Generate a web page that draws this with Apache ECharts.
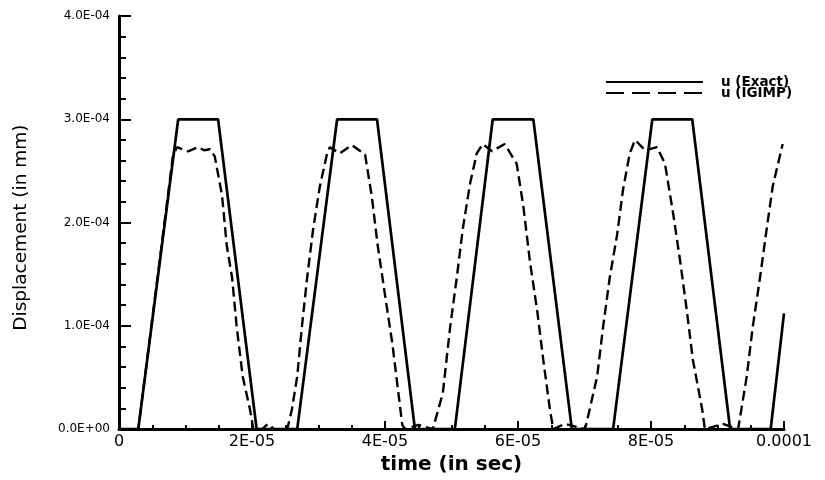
<!DOCTYPE html>
<html><head><meta charset="utf-8">
<script src="https://cdn.jsdelivr.net/npm/echarts@6/dist/echarts.min.js"></script>
<style>html,body{margin:0;padding:0;background:#fff}#c{width:825px;height:480px}</style>
</head><body><div id="c"></div>
<script>
// time (s)
const exactT = [0, 2.9e-6, 8.9e-6, 1.49e-5, 2.07e-5, 2.68e-5, 3.28e-5, 3.88e-5, 4.45e-5, 5.05e-5, 5.62e-5, 6.23e-5, 6.81e-5, 7.43e-5, 8.02e-5, 8.62e-5, 9.19e-5, 9.8e-5, 1e-4];
// displacement (mm)
const exactU = [0, 0, 3e-4, 3e-4, 0, 0, 3e-4, 3e-4, 0, 0, 3e-4, 3e-4, 0, 0, 3e-4, 3e-4, 0, 0, 1.12e-4];

const igimpT = [0, 2.9e-6, 8.1e-6, 8.7e-6, 1.04e-5, 1.19e-5, 1.28e-5, 1.37e-5, 1.44e-5, 1.55e-5, 1.62e-5, 1.70e-5, 1.77e-5, 1.86e-5, 1.97e-5, 2.02e-5,
  2.15e-5, 2.24e-5, 2.33e-5, 2.53e-5, 2.60e-5, 2.68e-5, 2.75e-5, 2.83e-5, 2.92e-5, 3.02e-5, 3.13e-5, 3.17e-5, 3.32e-5, 3.50e-5, 3.70e-5,
  3.80e-5, 3.89e-5, 4.00e-5, 4.11e-5, 4.26e-5, 4.30e-5, 4.50e-5, 4.72e-5, 4.87e-5, 4.98e-5, 5.08e-5, 5.17e-5, 5.28e-5, 5.38e-5, 5.47e-5,
  5.61e-5, 5.80e-5, 5.98e-5, 6.08e-5, 6.18e-5, 6.29e-5, 6.38e-5, 6.48e-5, 6.53e-5, 6.71e-5, 7.01e-5, 7.19e-5, 7.28e-5, 7.38e-5, 7.49e-5,
  7.58e-5, 7.68e-5, 7.76e-5, 7.91e-5, 8.09e-5, 8.21e-5, 8.33e-5, 8.44e-5, 8.54e-5, 8.63e-5, 8.77e-5, 8.81e-5, 9.08e-5, 9.31e-5, 9.44e-5,
  9.53e-5, 9.64e-5, 9.74e-5, 9.83e-5, 9.98e-5];
const igimpU = [0, 0, 2.64e-4, 2.73e-4, 2.69e-4, 2.73e-4, 2.70e-4, 2.71e-4, 2.64e-4, 2.26e-4, 1.78e-4, 1.47e-4, 0.99e-4, 0.51e-4, 0.19e-4, 0,
  0, 0.05e-4, 0, 0, 0.19e-4, 0.51e-4, 0.99e-4, 1.47e-4, 1.94e-4, 2.35e-4, 2.67e-4, 2.73e-4, 2.67e-4, 2.75e-4, 2.66e-4,
  2.26e-4, 1.78e-4, 1.30e-4, 0.83e-4, 0.04e-4, 0, 0.04e-4, 0, 0.35e-4, 0.99e-4, 1.47e-4, 1.94e-4, 2.38e-4, 2.67e-4, 2.76e-4,
  2.69e-4, 2.76e-4, 2.57e-4, 2.16e-4, 1.62e-4, 1.14e-4, 0.67e-4, 0.19e-4, 0, 0.05e-4, 0, 0.51e-4, 0.99e-4, 1.47e-4, 1.88e-4,
  2.32e-4, 2.67e-4, 2.80e-4, 2.70e-4, 2.73e-4, 2.57e-4, 2.10e-4, 1.62e-4, 1.14e-4, 0.67e-4, 0.19e-4, 0, 0.05e-4, 0, 0.51e-4,
  0.99e-4, 1.47e-4, 1.94e-4, 2.35e-4, 2.76e-4];

const xTickLabels = ['0', '2E-05', '4E-05', '6E-05', '8E-05', '0.0001'];
const yTickLabels = ['0.0E+00', '1.0E-04', '2.0E-04', '3.0E-04', '4.0E-04'];
const seriesNames = ['u (Exact)', 'u (IGIMP)'];

const zip = (a, b) => a.map((v, i) => [v, b[i]]);
const chart = echarts.init(document.getElementById('c'), null, {renderer: 'canvas'});
chart.setOption({
  animation: false,
  backgroundColor: '#fff',
  grid: {left: 119, right: 41, top: 16, bottom: 43, containLabel: false},
  legend: {
    orient: 'vertical', left: 605, top: 75, padding: 0, itemGap: -3, itemWidth: 97, itemHeight: 10,
    itemStyle: {color: 'rgba(0,0,0,0)', borderWidth: 0, opacity: 0},
    data: [{name: seriesNames[0]}, {name: seriesNames[1], lineStyle: {type: [18, 8]}}],
    textStyle: {fontFamily: 'DejaVu Sans', fontWeight: 'bold', fontSize: 13.5, color: '#000', lineHeight: 10, padding: [0, 0, 0, 13]}
  },
  xAxis: {
    type: 'value', min: 0, max: 1e-4, interval: 2e-5,
    name: 'time (in sec)', nameLocation: 'middle', nameGap: 21,
    nameTextStyle: {fontFamily: 'DejaVu Sans', fontWeight: 'bold', fontSize: 20, color: '#000'},
    axisLine: {show: true, lineStyle: {color: '#000', width: 3}},
    axisTick: {show: true, inside: true, length: 8, lineStyle: {color: '#000', width: 2}},
    minorTick: {show: true, splitNumber: 4, length: 4, lineStyle: {color: '#000', width: 2}},
    splitLine: {show: false},
    axisLabel: {margin: 5, fontFamily: 'DejaVu Sans', fontSize: 16, color: '#000',
      formatter: v => xTickLabels[Math.round(v / 2e-5)]}
  },
  yAxis: {
    type: 'value', min: 0, max: 4e-4, interval: 1e-4,
    name: 'Displacement (in mm)', nameLocation: 'middle', nameGap: 88, nameRotate: 90,
    nameTextStyle: {fontFamily: 'DejaVu Sans', fontSize: 18.5, color: '#000', padding: [0, 10, 0, 0]},
    axisLine: {show: true, lineStyle: {color: '#000', width: 3}},
    axisTick: {show: true, inside: true, length: 12, lineStyle: {color: '#000', width: 2}},
    minorTick: {show: true, splitNumber: 5, length: 7, lineStyle: {color: '#000', width: 2}},
    splitLine: {show: false},
    axisLabel: {margin: 9, fontFamily: 'DejaVu Sans', fontSize: 12, color: '#000',
      formatter: v => yTickLabels[Math.round(v / 1e-4)]}
  },
  series: [
    {name: seriesNames[0], type: 'line', data: zip(exactT, exactU), showSymbol: false, symbol: 'none',
      lineStyle: {color: '#000', width: 2.7, type: 'solid'}, itemStyle: {color: '#000'}},
    {name: seriesNames[1], type: 'line', data: zip(igimpT, igimpU), showSymbol: false, symbol: 'none',
      lineStyle: {color: '#000', width: 2.4, type: [10, 5]}, itemStyle: {color: '#000'}}
  ]
});
</script>
</body></html>
